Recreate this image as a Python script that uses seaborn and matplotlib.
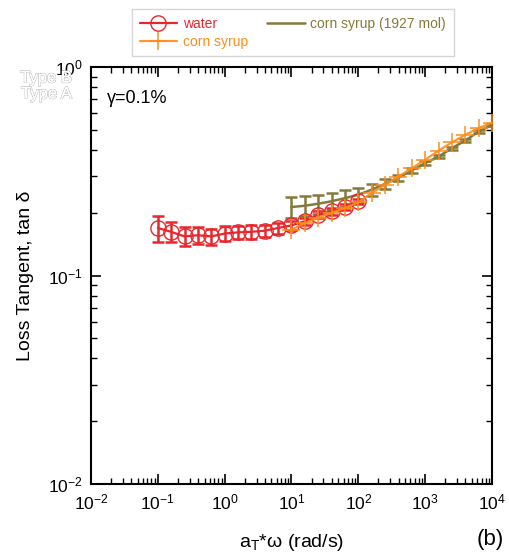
import numpy as np
import pandas as pd
import matplotlib
matplotlib.use("Agg")
import matplotlib.pyplot as plt
import matplotlib.patheffects as pe
from matplotlib.ticker import LogLocator, NullFormatter
import seaborn as sns

# ---- data ----
water_x = [0.1, 0.158, 0.251, 0.398, 0.631, 1.0, 1.58, 2.51, 3.98, 6.31,
           10.0, 15.8, 25.1, 39.8, 63.1, 100.0]
water_y = [0.169, 0.162, 0.154, 0.156, 0.154, 0.159, 0.161, 0.162, 0.164, 0.169,
           0.174, 0.182, 0.196, 0.203, 0.213, 0.227]
water_err = [0.024, 0.018, 0.016, 0.015, 0.014, 0.013, 0.012, 0.012, 0.011, 0.010,
             0.008, 0.007, 0.007, 0.007, 0.007, 0.007]

corn_x = [10.0, 15.8, 25.1, 39.8, 63.1, 100.0, 158.0, 251.0, 398.0, 631.0,
          1000.0, 1585.0, 2512.0, 3981.0, 6310.0, 10000.0]
corn_y = [0.166, 0.178, 0.189, 0.200, 0.211, 0.224, 0.249, 0.272, 0.298, 0.327,
          0.359, 0.397, 0.435, 0.473, 0.509, 0.541]

mol_x = [10.0, 15.8, 25.1, 39.8, 63.1, 100.0, 158.0, 251.0, 398.0, 631.0,
         1000.0, 1585.0, 2512.0, 3981.0, 6310.0, 10000.0]
mol_y = [0.213, 0.216, 0.221, 0.227, 0.235, 0.244, 0.258, 0.275, 0.295, 0.319,
         0.346, 0.372, 0.408, 0.444, 0.490, 0.528]
mol_err = [0.025, 0.024, 0.023, 0.022, 0.021, 0.020, 0.018, 0.015, 0.010, 0.008,
           0.007, 0.006, 0.006, 0.006, 0.006, 0.006]

RED = "#e8262c"
ORANGE = "#ff8c1a"
OLIVE = "#857a3a"

sns.set_theme(style="ticks")
plt.rcParams["font.family"] = ["Liberation Sans", "DejaVu Sans"]
plt.rcParams["mathtext.fontset"] = "custom"
plt.rcParams["mathtext.rm"] = "Liberation Sans"
plt.rcParams["mathtext.it"] = "Liberation Sans:italic"
plt.rcParams["mathtext.default"] = "regular"
plt.rcParams["text.color"] = "black"
plt.rcParams["axes.labelcolor"] = "black"
plt.rcParams["xtick.color"] = "black"
plt.rcParams["ytick.color"] = "black"

fig = plt.figure(figsize=(5.10, 5.55), dpi=100)
ax = fig.add_axes([91 / 510, 1 - 484 / 555, (492 - 91) / 510, (484 - 67) / 555])

df_w = pd.DataFrame({"x": water_x, "y": water_y})
df_c = pd.DataFrame({"x": corn_x, "y": corn_y})
df_m = pd.DataFrame({"x": mol_x, "y": mol_y})

# error bars
ax.errorbar(mol_x, mol_y, yerr=mol_err, fmt="none", ecolor=OLIVE, elinewidth=1.8,
            capsize=4, capthick=1.8, zorder=2)
ax.errorbar(water_x, water_y, yerr=water_err, fmt="none", ecolor=RED, elinewidth=1.8,
            capsize=4, capthick=1.8, zorder=3)

sns.lineplot(data=df_m, x="x", y="y", ax=ax, color=OLIVE, lw=1.8, zorder=2,
             label="corn syrup (1927 mol)", legend=False)
sns.lineplot(data=df_w, x="x", y="y", ax=ax, color=RED, lw=1.6, marker="o",
             markersize=11, markerfacecolor="none", markeredgecolor=RED,
             markeredgewidth=1.0, zorder=4, label="water", legend=False)
sns.lineplot(data=df_c, x="x", y="y", ax=ax, color=ORANGE, lw=1.6, marker="+",
             markersize=13, markeredgewidth=1.2, markeredgecolor=ORANGE,
             zorder=5, label="corn syrup", legend=False, alpha=0.9)

ax.set_xscale("log")
ax.set_yscale("log")
ax.set_xlim(1e-2, 1e4)
ax.set_ylim(1e-2, 1e0)
ax.xaxis.set_major_locator(LogLocator(base=10, numticks=10))
ax.xaxis.set_minor_locator(LogLocator(base=10, subs=np.arange(2, 10), numticks=20))
ax.yaxis.set_minor_locator(LogLocator(base=10, subs=np.arange(2, 10), numticks=20))
ax.xaxis.set_minor_formatter(NullFormatter())
ax.yaxis.set_minor_formatter(NullFormatter())
ax.tick_params(which="both", direction="in", top=True, right=True, color="black")
ax.tick_params(which="major", length=7, width=1.2, labelsize=12.5, pad=6)
ax.tick_params(which="minor", length=4, width=1.0)
for s in ax.spines.values():
    s.set_visible(True)
    s.set_linewidth(1.5)
    s.set_color("black")

ax.set_xlabel(r"a$_{T}$*ω (rad/s)", fontsize=14, labelpad=14)
ax.set_ylabel("Loss Tangent, tan δ", fontsize=14, labelpad=10)

ax.text(0.04, 0.925, "γ=0.1%", transform=ax.transAxes, fontsize=13,
        ha="left", va="center", color="black")

# hollow outlined labels
for txt, yy in [("Type B", 78), ("Type A", 94)]:
    fig.text(72 / 510, 1 - yy / 555, txt, fontsize=12, ha="right", va="center",
             color="white", zorder=0,
             path_effects=[pe.withStroke(linewidth=0.9, foreground="#b8b8b8"), pe.Normal()])

fig.text(490 / 510, 1 - 540 / 555, "(b)", fontsize=16, ha="center", va="center")

handles, labels = ax.get_legend_handles_labels()
order = [labels.index("water"), labels.index("corn syrup"),
         labels.index("corn syrup (1927 mol)")]
leg = fig.legend([handles[i] for i in order], [labels[i] for i in order],
                 loc="upper left", bbox_to_anchor=(132 / 510, 1 - 9 / 555),
                 ncol=2, fontsize=10, frameon=True, fancybox=False,
                 edgecolor="#cccccc", handlelength=2.7, columnspacing=1.4,
                 borderpad=0.55, labelspacing=0.3, handletextpad=0.4,
                 borderaxespad=0)
leg.get_frame().set_linewidth(1.0)
for t, c in zip(leg.get_texts(), [RED, ORANGE, OLIVE]):
    t.set_color(c)

fig.savefig("out.png", dpi=100)
